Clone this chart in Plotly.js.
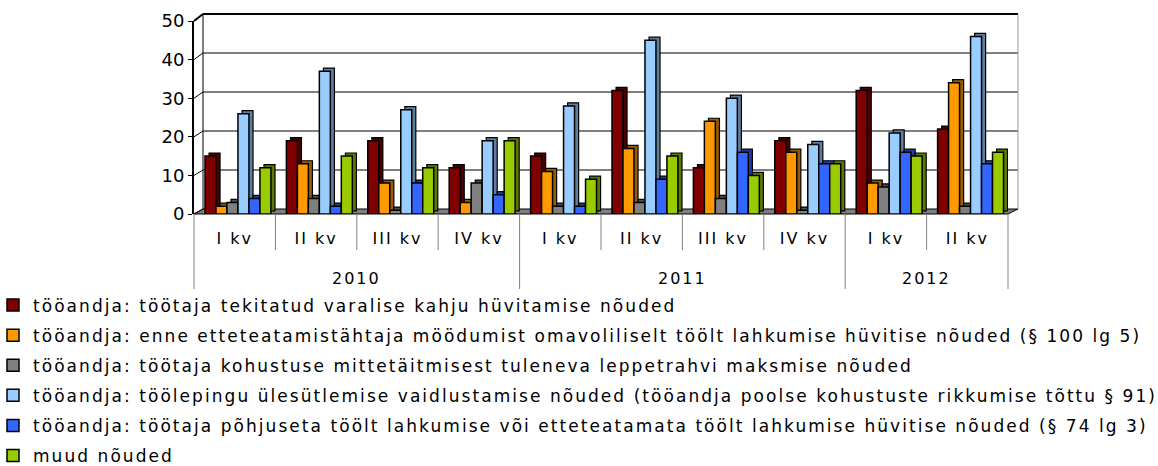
<!DOCTYPE html>
<html>
<head>
<meta charset="utf-8">
<script src="https://cdn.plot.ly/plotly-3.0.1.min.js"></script>
<style>
html,body{margin:0;padding:0;background:#fff;}
#chart{width:1158px;height:466px;}
#chart .legendtext{letter-spacing:2.05px;}
#chart .legend .scrollbox{clip-path:none !important;}
#chart .xtick text{letter-spacing:2px;}
#chart .annotation-text{letter-spacing:2px;}
</style>
</head>
<body>
<div id="chart"></div>
<script>
// ---- data ----
const years = ['2010','2010','2010','2010','2011','2011','2011','2011','2012','2012'];
const quarters = ['I kv','II kv','III kv','IV kv','I kv','II kv','III kv','IV kv','I kv','II kv'];
const seriesNames = [
  'tööandja: töötaja tekitatud varalise kahju hüvitamise nõuded',
  'tööandja: enne etteteatamistähtaja möödumist omavoliliselt töölt lahkumise hüvitise nõuded (§ 100 lg 5)',
  'tööandja: töötaja kohustuse mittetäitmisest tuleneva leppetrahvi maksmise nõuded',
  'tööandja: töölepingu ülesütlemise vaidlustamise nõuded (tööandja poolse kohustuste rikkumise tõttu § 91)',
  'tööandja: töötaja põhjuseta töölt lahkumise või etteteatamata töölt lahkumise hüvitise nõuded (§ 74 lg 3)',
  'muud nõuded'
];
const kahju      = [15, 19, 19, 12, 15, 32, 12, 19, 32, 22];
const omavoliline= [2, 13, 8, 3, 11, 17, 24, 16, 8, 34];
const leppetrahv = [3, 4, 1, 8, 2, 3, 4, 1, 7, 2];
const vaidlus    = [26, 37, 27, 19, 28, 45, 30, 18, 21, 46];
const pohjuseta  = [4, 2, 8, 5, 2, 9, 16, 13, 16, 13];
const muud       = [12, 15, 12, 19, 9, 15, 10, 13, 15, 16];
const yTicks = [0, 10, 20, 30, 40, 50];

// ---- style ----
const seriesValues = [kahju, omavoliline, leppetrahv, vaidlus, pohjuseta, muud];
const faceColors  = ['#800000', '#FF9900', '#808080', '#99CCFF', '#3366FF', '#99CC00'];
const sideColors  = ['#4a0000', '#9a5c00', '#4d4d4d', '#5f7f9f', '#1f3d99', '#5c7a00'];

const W = 1158, H = 466;
const L = 194, R = 1008, T = 21, B = 214;     // front plot area in px
const pw = R - L, ph = B - T;
const px = x => (x - L) / pw;                 // px -> paper x
const py = y => (B - y) / ph;                 // px -> paper y

const barW = 0.135, groupStart = -0.365;
const depthX = 0.05, depthY = 0.8;

// unique category keys, shown with quarter labels; years drawn as group labels
const cats = years.map((y, i) => y + ' ' + quarters[i]);

const traces = [];
seriesValues.forEach((vals, i) => {
  const off = groupStart + i * barW;
  traces.push({
    type: 'bar', x: cats, y: vals, base: depthY,
    width: barW, offset: off + depthX,
    marker: {color: sideColors[i], line: {color: '#000', width: 1.2}},
    showlegend: false, hoverinfo: 'skip'
  });
  traces.push({
    type: 'bar', x: cats, y: vals, name: seriesNames[i],
    width: barW, offset: off, legendgroup: 'g' + i,
    marker: {color: faceColors[i], line: {color: '#000', width: 1.5}}
  });
});

const shapes = [];
// floor
shapes.push({type: 'path', xref: 'paper', yref: 'paper', layer: 'below',
  path: `M${px(194)},${py(214)} L${px(1008)},${py(214)} L${px(1018)},${py(209)} L${px(203)},${py(209)} Z`,
  fillcolor: '#808080', line: {color: '#000', width: 1}});
// back wall gridlines and side wall diagonals
yTicks.forEach(v => {
  const yb = 209 - 3.9 * v, yf = 214 - 3.86 * v;
  if (v > 0) {
    shapes.push({type: 'line', xref: 'paper', yref: 'paper', layer: 'below',
      x0: px(203), x1: px(1018), y0: py(yb), y1: py(yb),
      line: {color: '#000', width: v === 50 ? 2 : 1}});
  }
  shapes.push({type: 'line', xref: 'paper', yref: 'paper', layer: 'below',
    x0: px(194), x1: px(203), y0: py(yf), y1: py(yb),
    line: {color: '#000', width: v === 50 ? 2 : 1}});
});
// back wall verticals
shapes.push({type: 'line', xref: 'paper', yref: 'paper', layer: 'below',
  x0: px(203), x1: px(203), y0: py(209), y1: py(14), line: {color: '#000', width: 1}});
shapes.push({type: 'line', xref: 'paper', yref: 'paper', layer: 'below',
  x0: px(1018), x1: px(1018), y0: py(209), y1: py(14), line: {color: '#999', width: 1}});

// category dividers (quarter boundaries short, year boundaries long)
const n = cats.length;
for (let i = 0; i <= n; i++) {
  const isYear = (i === 0 || i === n || years[i] !== years[i - 1]);
  shapes.push({type: 'line', xref: 'paper', yref: 'paper',
    x0: i / n, x1: i / n, y0: py(214), y1: py(isYear ? 289 : 250),
    line: {color: '#808080', width: 1}});
}

// year group labels
const annotations = [];
[...new Set(years)].forEach(yr => {
  const idx = years.map((y, i) => y === yr ? i : -1).filter(i => i >= 0);
  const mid = (idx[0] + idx[idx.length - 1]) / 2;
  annotations.push({xref: 'x', yref: 'paper', x: mid, y: py(278), text: yr,
    showarrow: false, xanchor: 'center', yanchor: 'middle',
    font: {size: 16, color: '#000'}});
});

const layout = {
  width: W, height: H,
  margin: {l: L, r: W - R, t: T, b: H - B, pad: 0, autoexpand: false},
  paper_bgcolor: '#fff', plot_bgcolor: 'rgba(0,0,0,0)',
  barmode: 'overlay',
  font: {family: 'DejaVu Sans, Verdana, sans-serif', color: '#000'},
  xaxis: {type: 'category', tickvals: cats, ticktext: quarters, automargin: false,
    showgrid: false, zeroline: false, showline: false,
    ticks: 'outside', ticklen: 10, tickcolor: 'rgba(0,0,0,0)',
    tickfont: {size: 16, color: '#000'}},
  yaxis: {range: [0, 50], tickvals: yTicks, ticktext: yTicks.map(String), automargin: false,
    showgrid: false, zeroline: false, showline: true, linecolor: '#000', linewidth: 2,
    ticks: 'outside', ticklen: 4, tickcolor: '#000', tickfont: {size: 18, color: '#000'}},
  legend: {orientation: 'v', xref: 'paper', yref: 'paper',
    x: px(0), xanchor: 'left', y: py(287.5), yanchor: 'top', indentation: -7,
    traceorder: 'grouped', tracegroupgap: 5,
    font: {size: 17, color: '#000'}, bgcolor: 'rgba(0,0,0,0)'},
  shapes: shapes,
  annotations: annotations,
  showlegend: true
};

Plotly.newPlot('chart', traces, layout, {displayModeBar: false, staticPlot: true});
</script>
</body>
</html>
